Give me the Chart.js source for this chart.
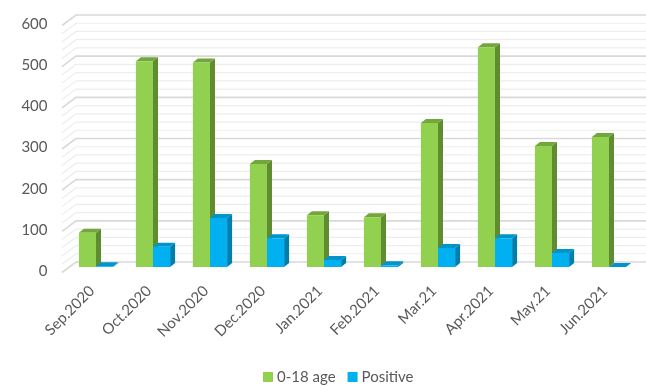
<!DOCTYPE html>
<html>
<head>
<meta charset="utf-8">
<script src="https://cdn.jsdelivr.net/npm/chart.js@4.4.1/dist/chart.umd.min.js"></script>
<style>
  html, body { margin: 0; padding: 0; background: #fff; }
  #wrap { width: 646px; height: 385px; }
</style>
</head>
<body>
<div id="wrap"><canvas id="myChart" width="646" height="385"></canvas></div>
<script>
const months = ['Sep.2020', 'Oct.2020', 'Nov.2020', 'Dec.2020', 'Jan.2021', 'Feb.2021', 'Mar.21', 'Apr.2021', 'May.21', 'Jun.2021'];
const age018 = [83, 500, 497, 250, 126, 121, 350, 534, 294, 316];
const positive = [2, 49, 119, 70, 17, 4, 46, 70, 34, 0];
const yTicks = [0, 100, 200, 300, 400, 500, 600];

// colours of the three faces of each bar: front, side, top
const faces = [
  { front: '#92D050', side: '#5F8C30', top: '#74A73B' },
  { front: '#00B0F0', side: '#007FAD', top: '#0094CB' }
];

// depth of a bar and of the back wall
const barDx = 5, barDy = 4;
const wallBack = { dx: 8.5, dy: -5 };
const wallFront = { dx: -5.5, dy: 5.5 };

const threeD = {
  id: 'threeD',
  beforeDatasetsDraw(chart) {
    const ctx = chart.ctx;
    const y = chart.scales.y;
    const area = chart.chartArea;
    ctx.save();
    // back wall grid, major every 100, minor every 20
    for (let v = 0; v <= 600; v += 20) {
      const py = y.getPixelForValue(v);
      const major = v % 100 == 0;
      ctx.strokeStyle = major ? '#D9D9D9' : '#EDEDED';
      ctx.lineWidth = major ? 1.6 : 1.2;
      ctx.beginPath();
      ctx.moveTo(area.left + wallFront.dx, py + wallFront.dy);
      ctx.lineTo(area.left + wallBack.dx, py + wallBack.dy);
      ctx.lineTo(chart.width, py + wallBack.dy);
      ctx.stroke();
    }
    // side and top faces, fronts are drawn after by the library
    for (let i = 0; i < months.length; i++) {
      chart.data.datasets.forEach(function(ds, d) {
        const bar = chart.getDatasetMeta(d).data[i];
        const l = bar.x - bar.width / 2, r = bar.x + bar.width / 2;
        const t = bar.y, b = bar.base;
        ctx.fillStyle = faces[d].side;
        ctx.beginPath();
        ctx.moveTo(r, t);
        ctx.lineTo(r + barDx, t - barDy);
        ctx.lineTo(r + barDx, b - barDy);
        ctx.lineTo(r, b);
        ctx.closePath();
        ctx.fill();
        ctx.fillStyle = faces[d].top;
        ctx.beginPath();
        ctx.moveTo(l, t);
        ctx.lineTo(l + barDx, t - barDy);
        ctx.lineTo(r + barDx, t - barDy);
        ctx.lineTo(r, t);
        ctx.closePath();
        ctx.fill();
      });
    }
    ctx.restore();
  },
  // legend drawn by hand so the box/text spacing matches
  afterDraw(chart) {
    const ctx = chart.ctx;
    ctx.save();
    ctx.font = '15px Lato';
    ctx.textBaseline = 'middle';
    let x = 263;
    const cy = 377;
    chart.data.datasets.forEach(function(ds) {
      ctx.fillStyle = ds.backgroundColor;
      ctx.fillRect(x, cy - 5, 10, 10);
      x += 14;
      ctx.fillStyle = '#595959';
      ctx.fillText(ds.label, x, cy);
      x += ctx.measureText(ds.label).width + 12;
    });
    ctx.restore();
  }
};

const myChart = document.getElementById('myChart').getContext('2d');

const chart = new Chart(myChart, {
  type: 'bar',
  data: {
    labels: months,
    datasets: [
      { label: '0-18 age', data: age018, backgroundColor: faces[0].front, borderWidth: 0 },
      { label: 'Positive', data: positive, backgroundColor: faces[1].front, borderWidth: 0 }
    ]
  },
  options: {
    responsive: false,
    animation: false,
    devicePixelRatio: 1,
    layout: { padding: { left: 0, right: 8.5, top: 20, bottom: 36 } },
    datasets: { bar: { categoryPercentage: 0.6, barPercentage: 1 } },
    plugins: {
      legend: { display: false },
      tooltip: { enabled: false }
    },
    scales: {
      x: {
        grid: { display: false, drawTicks: false },
        border: { display: false },
        ticks: {
          minRotation: 45, maxRotation: 45,
          labelOffset: -4, padding: 15,
          color: '#595959',
          font: { family: 'Lato', size: 15 }
        },
        afterFit(scale) { scale.height = 82; }
      },
      y: {
        min: 0, max: 600,
        afterBuildTicks(scale) { scale.ticks = yTicks.map(v => ({ value: v })); },
        grid: { display: false, drawTicks: false },
        border: { display: false },
        ticks: {
          padding: 20, labelOffset: 4,
          color: '#595959',
          font: { family: 'Lato', size: 15 }
        },
        afterFit(scale) {
          scale.width = 67.5;
          // tick padding would otherwise push the plot top down
          scale.paddingTop = 0;
          scale.paddingBottom = 0;
        }
      }
    }
  },
  plugins: [threeD]
});
</script>
</body>
</html>
